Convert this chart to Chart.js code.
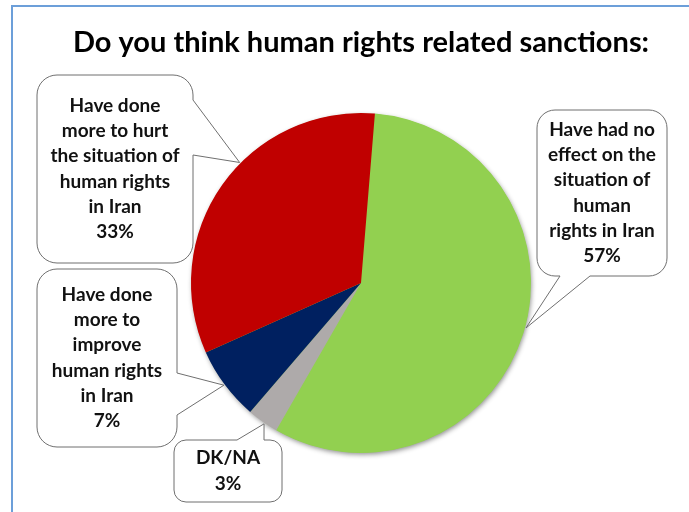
<!DOCTYPE html>
<html>
<head>
<meta charset="utf-8">
<script src="https://cdn.jsdelivr.net/npm/chart.js@4"></script>
<style>
  html, body { margin:0; padding:0; background:#fff; }
  #wrap { position:relative; width:689px; height:512px; overflow:hidden; }
  #frame { position:absolute; left:11px; top:5px; width:720px; height:560px; border-top:2px solid #6c9fd9; border-left:2px solid #6c9fd9; }
  canvas { position:absolute; left:0; top:0; }
</style>
</head>
<body>
<div id="wrap">
  <div id="frame"></div>
  <canvas id="pie" width="722" height="512"></canvas>
</div>
<script>
const title = 'Do you think human rights related sanctions:';
const labels = [
  ['Have had no', 'effect on the', 'situation of', 'human', 'rights in Iran'],
  ['DK/NA'],
  ['Have done', 'more to', 'improve', 'human rights', 'in Iran'],
  ['Have done', 'more to hurt', 'the situation of', 'human rights', 'in Iran']
];
const values = [57, 3, 7, 33];
const colors = ['#92d050', '#aeaaaa', '#002060', '#c00000'];

// callout boxes: x, y, w, h, corner radius, side of the pointer, pointer base range, where on the slice it points
const boxes = [
  { x:537, y:110, w:130, h:166, r:18, side:'bottom', a:23, b:53, at:0.49 },
  { x:174, y:440, w:108, h:62,  r:12, side:'top',    a:63, b:90, at:0.43 },
  { x:37,  y:269, w:140, h:178, r:20, side:'right',  a:104, b:146, at:0.5 },
  { x:37,  y:75,  w:156, h:188, r:20, side:'right',  a:25, b:80, at:0.58 }
];

function bubble(ctx, bx, tip){
  const {x, y, w, h, r, side, a, b} = bx;
  ctx.beginPath();
  ctx.moveTo(x + r, y);
  if (side === 'top') { ctx.lineTo(x + a, y); ctx.lineTo(tip.x, tip.y); ctx.lineTo(x + b, y); }
  ctx.lineTo(x + w - r, y); ctx.arcTo(x + w, y, x + w, y + r, r);
  if (side === 'right') { ctx.lineTo(x + w, y + a); ctx.lineTo(tip.x, tip.y); ctx.lineTo(x + w, y + b); }
  ctx.lineTo(x + w, y + h - r); ctx.arcTo(x + w, y + h, x + w - r, y + h, r);
  if (side === 'bottom') { ctx.lineTo(x + b, y + h); ctx.lineTo(tip.x, tip.y); ctx.lineTo(x + a, y + h); }
  ctx.lineTo(x + r, y + h); ctx.arcTo(x, y + h, x, y + h - r, r);
  ctx.lineTo(x, y + r); ctx.arcTo(x, y, x + r, y, r);
  ctx.closePath();
}

const pieShadow = {
  id:'pieShadow',
  beforeDatasetsDraw(chart){
    const arc = chart.getDatasetMeta(0).data[0];
    if (!arc) return;
    const ctx = chart.ctx;
    ctx.save();
    ctx.shadowColor = 'rgba(0,0,0,0.45)';
    ctx.shadowBlur = 5;
    ctx.shadowOffsetX = 1;
    ctx.shadowOffsetY = 2;
    ctx.fillStyle = colors[0];
    ctx.beginPath();
    ctx.arc(arc.x, arc.y, arc.outerRadius - 0.5, 0, Math.PI * 2);
    ctx.fill();
    ctx.restore();
  }
};

const callouts = {
  id:'callouts',
  afterDraw(chart){
    const ctx = chart.ctx;
    const arcs = chart.getDatasetMeta(0).data;
    ctx.save();
    boxes.forEach((bx, i) => {
      const arc = arcs[i];
      const ang = arc.startAngle + (arc.endAngle - arc.startAngle) * bx.at;
      const tip = { x: arc.x + Math.cos(ang) * (arc.outerRadius + 1), y: arc.y + Math.sin(ang) * (arc.outerRadius + 1) };
      bubble(ctx, bx, tip);
      ctx.fillStyle = '#fff';
      ctx.fill();
      ctx.strokeStyle = '#6f6f6f';
      ctx.lineWidth = 1;
      ctx.stroke();
      const lines = labels[i].concat([values[i] + '%']);
      const lh = 25.3;
      const cx = bx.x + bx.w / 2;
      const y0 = bx.y + bx.h / 2 - (lines.length - 1) * lh / 2;
      ctx.fillStyle = '#111';
      ctx.font = 'bold 19px Lato';
      ctx.textAlign = 'center';
      ctx.textBaseline = 'middle';
      lines.forEach((t, k) => ctx.fillText(t, cx, y0 + k * lh));
    });
    ctx.restore();
  }
};

new Chart(document.getElementById('pie'), {
  type:'pie',
  data:{ labels: labels.map(l => l.join(' ')), datasets:[{ data: values, backgroundColor: colors, borderWidth:0 }] },
  options:{
    responsive:false, animation:false, devicePixelRatio:1,
    rotation:4.7,
    layout:{ padding:{ top:0, left:0, right:0, bottom:59 } },
    plugins:{
      legend:{ display:false }, tooltip:{ enabled:false },
      title:{ display:true, text:title, color:'#000', font:{ family:'Lato', size:29, weight:'bold', lineHeight:1.2 }, padding:{ top:25, bottom:53.2 } }
    }
  },
  plugins:[pieShadow, callouts]
});
</script>
</body>
</html>
